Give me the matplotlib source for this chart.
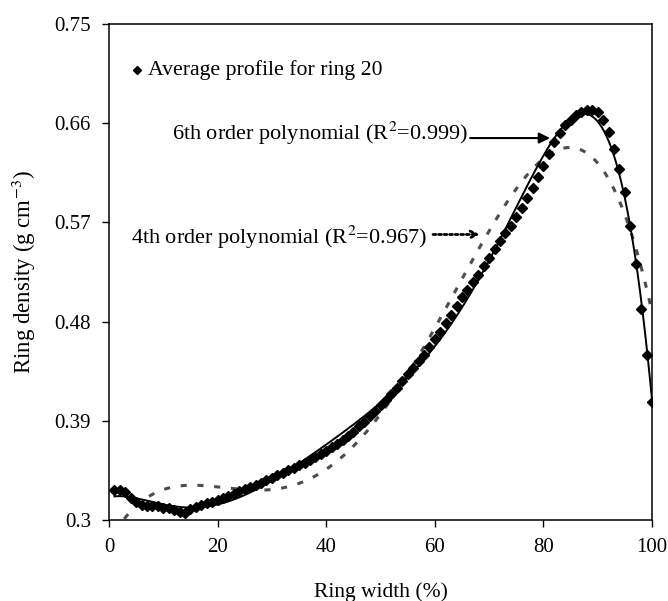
import matplotlib
matplotlib.use("Agg")
import matplotlib.pyplot as plt
import numpy as np

plt.rcParams["font.family"] = ["Liberation Serif", "DejaVu Serif"]
plt.rcParams["mathtext.fontset"] = "stix"

# average density profile of ring 20
ring_width = list(range(1, 101))
density = [
    0.327, 0.327, 0.325, 0.320, 0.316, 0.314, 0.313, 0.3125, 0.3125, 0.311,
    0.3105, 0.309, 0.307, 0.306, 0.310, 0.312, 0.3135, 0.315, 0.3165, 0.318,
    0.320, 0.322, 0.324, 0.326, 0.328, 0.330, 0.332, 0.334, 0.336, 0.338,
    0.3405, 0.343, 0.345, 0.3475, 0.350, 0.352, 0.3545, 0.357, 0.360, 0.363,
    0.366, 0.369, 0.3725, 0.376, 0.380, 0.385, 0.389, 0.394, 0.399, 0.404,
    0.409, 0.414, 0.420, 0.426, 0.432, 0.438, 0.444, 0.450, 0.457, 0.464,
    0.471, 0.479, 0.486, 0.494, 0.502, 0.509, 0.516, 0.522, 0.530, 0.538,
    0.546, 0.553, 0.560, 0.567, 0.575, 0.583, 0.592, 0.601, 0.611, 0.621,
    0.632, 0.643, 0.651, 0.658, 0.663, 0.667, 0.670, 0.672, 0.672, 0.670,
    0.663, 0.652, 0.637, 0.618, 0.598, 0.567, 0.532, 0.491, 0.450, 0.407,
]

x_ticks = [0, 20, 40, 60, 80, 100]
y_ticks = [0.3, 0.39, 0.48, 0.57, 0.66, 0.75]
y_tick_labels = ["0.3", "0.39", "0.48", "0.57", "0.66", "0.75"]

x = np.array(ring_width, dtype=float)
y = np.array(density)

# polynomial trend lines fitted to the profile
xs = np.linspace(1, 100, 400)
fit6 = np.polyval(np.polyfit(x, y, 6), xs)
fit4 = np.polyval(np.polyfit(x, y, 4), xs)

fig = plt.figure(figsize=(6.68, 6.01), dpi=100)
ax = fig.add_axes([0.1632, 0.1348, 0.8129, 0.8253])

ax.plot(xs, fit4, color="#4d4d4d", linewidth=2.2, dashes=(2.0, 3.5), zorder=2)
ax.plot(x, y, linestyle="none", marker="D", markersize=5.5, color="black", zorder=3)
ax.plot(xs, fit6, color="black", linewidth=1.4, zorder=4)

ax.set_xlim(0, 100)
ax.set_ylim(0.3, 0.75)
ax.set_xticks(x_ticks)
ax.set_yticks(y_ticks)
ax.set_yticklabels(y_tick_labels)
ax.tick_params(direction="out", length=5, width=1, labelsize=15, pad=8)
for s in ax.spines.values():
    s.set_linewidth(1.1)

ax.set_xlabel("Ring width (%)", fontsize=15.5, labelpad=18)
ax.set_ylabel("Ring density (g cm$^{-3}$)", fontsize=16.5, labelpad=12)

# legend-like label
ax.plot([0.0516], [0.907], transform=ax.transAxes, marker="D", markersize=4.5,
        color="black", linestyle="none", clip_on=False)
ax.text(0.0718, 0.907, "Average profile for ring 20", transform=ax.transAxes,
        fontsize=15.7, ha="left", va="center")

ax.text(0.661, 0.780, "6th order polynomial (R$^2$=0.999)", transform=ax.transAxes,
        fontsize=16, ha="right", va="center")
ax.annotate("", xy=(0.812, 0.770), xytext=(0.665, 0.770),
            xycoords="axes fraction", textcoords="axes fraction",
            arrowprops=dict(arrowstyle="-|>", color="black", lw=1.5,
                            mutation_scale=16, shrinkA=0, shrinkB=0))

ax.text(0.5856, 0.5706, "4th order polynomial (R$^2$=0.967)", transform=ax.transAxes,
        fontsize=16, ha="right", va="center")
ax.annotate("", xy=(0.683, 0.5756), xytext=(0.5967, 0.5756),
            xycoords="axes fraction", textcoords="axes fraction",
            arrowprops=dict(arrowstyle="->", color="black", lw=2, linestyle=(0, (1, 1)),
                            mutation_scale=12, shrinkA=0, shrinkB=0))

fig.savefig("out.png", dpi=100)
